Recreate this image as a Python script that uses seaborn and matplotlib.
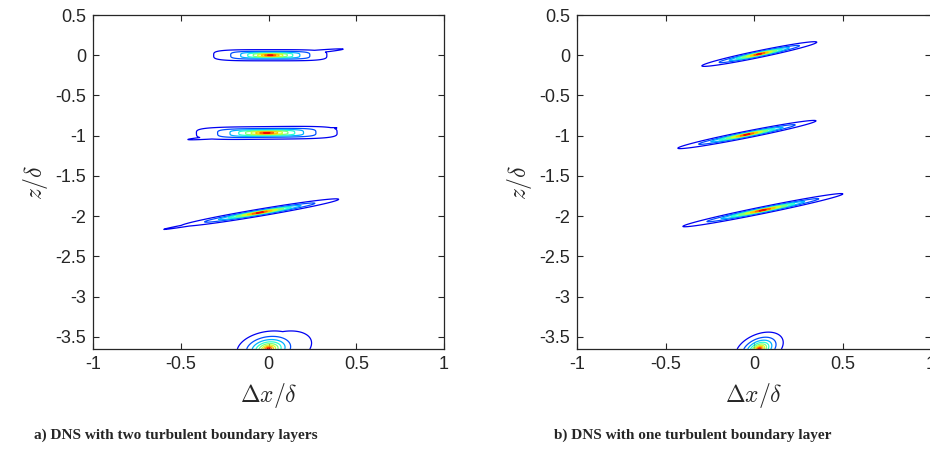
import numpy as np
import matplotlib
matplotlib.use("Agg")
import matplotlib.pyplot as plt
import seaborn as sns

sns.set_style("ticks")
plt.rcParams["font.family"] = ["Liberation Sans", "DejaVu Sans"]
plt.rcParams["mathtext.fontset"] = "cm"

# ---- data: correlation-blob parameters ----
# panel a) two turbulent boundary layers (core ellipse + faint halo)
a_x0 = [0.01, -0.01, -0.05, 0.0]
a_zc = [0.0, -0.965, -1.955, -3.65]
a_slope = [0.0, 0.02, 0.37, 2.75]
a_lx = [0.14, 0.174, 0.208, 0.10]
a_lz = [0.03, 0.034, 0.018, 0.075]
a_p = [4, 4, 2, 2]
a_hx = [0.12, -0.035, -0.10, 0.07]
a_hz = [0.015, -0.975, -1.975, -3.65]
a_hslope = [0.2, 0.17, 0.38, 2.0]
a_hlx = [0.34, 0.47, 0.58, 0.26]
a_hlz = [0.022, 0.025, 0.02, 0.17]
a_hamp = [0.25, 0.25, 0.25, 0.25]

# panel b) one turbulent boundary layer
b_x0 = [0.03, -0.04, 0.05, 0.03]
b_zc = [0.015, -0.985, -1.925, -3.65]
b_slope = [0.46, 0.44, 0.45, 2.75]
b_lx = [0.155, 0.185, 0.215, 0.095]
b_lz = [0.017, 0.017, 0.017, 0.052]
b_p = [2, 2, 2, 2]
b_hx = [0.0, 0.0, 0.0, 0.0]
b_hz = [0.0, -1.0, -2.0, -3.65]
b_hslope = [0.0, 0.0, 0.0, 0.0]
b_hlx = [0.1, 0.1, 0.1, 0.1]
b_hlz = [0.01, 0.01, 0.01, 0.01]
b_hamp = [0.0, 0.0, 0.0, 0.0]

levels = [0.1, 0.2, 0.3, 0.4, 0.5, 0.6, 0.7, 0.8, 0.9]
xticks = [-1, -0.5, 0, 0.5, 1]
xticklabels = ["-1", "-0.5", "0", "0.5", "1"]
yticks = [0.5, 0, -0.5, -1, -1.5, -2, -2.5, -3, -3.5]
yticklabels = ["0.5", "0", "-0.5", "-1", "-1.5", "-2", "-2.5", "-3", "-3.5"]
captions = ["a) DNS with two turbulent boundary layers",
            "b) DNS with one turbulent boundary layer"]

x = np.linspace(-1, 1, 900)
z = np.linspace(-3.65, 0.5, 1800)
X, Z = np.meshgrid(x, z)


def comp(x0, z0, slope, lx, lz, p=2):
    th = np.arctan(slope)
    dx, dz = X - x0, Z - z0
    u = dx * np.cos(th) + dz * np.sin(th)
    v = -dx * np.sin(th) + dz * np.cos(th)
    r = (np.abs(u / lx) ** p + np.abs(v / lz) ** p) ** (1.0 / p)
    return np.exp(-r)


def field(x0, zc, sl, lx, lz, p, hx, hz, hs, hlx, hlz, ha):
    F = np.zeros_like(X)
    for i in range(len(zc)):
        core = comp(x0[i], zc[i], sl[i], lx[i], lz[i], p[i])
        halo = ha[i] * comp(hx[i], hz[i], hs[i], hlx[i], hlz[i])
        F += np.maximum(core, halo)
    return F


fields = [
    field(a_x0, a_zc, a_slope, a_lx, a_lz, a_p, a_hx, a_hz, a_hslope, a_hlx, a_hlz, a_hamp),
    field(b_x0, b_zc, b_slope, b_lx, b_lz, b_p, b_hx, b_hz, b_hslope, b_hlx, b_hlz, b_hamp),
]

colors = [plt.get_cmap("jet")(v) for v in levels]

fig = plt.figure(figsize=(9.3, 4.54), dpi=100)
axes_rects = [[93 / 930, 105 / 454, 351 / 930, 334 / 454],
              [577 / 930, 105 / 454, 354 / 930, 334 / 454]]
cap_x = [176 / 930, 693 / 930]
for k in range(2):
    ax = fig.add_axes(axes_rects[k])
    ax.contour(X, Z, fields[k], levels=levels, colors=colors, linewidths=0.9)
    ax.set_xlim(-1, 1)
    ax.set_ylim(-3.65, 0.5)
    ax.set_xticks(xticks)
    ax.set_xticklabels(xticklabels)
    ax.set_yticks(yticks)
    ax.set_yticklabels(yticklabels)
    ax.tick_params(direction="in", top=True, right=True, length=4, width=0.8,
                   labelsize=13, color="#262626", labelcolor="#262626", pad=5)
    for s in ax.spines.values():
        s.set_visible(True)
        s.set_linewidth(0.9)
        s.set_color("#262626")
    ax.set_xlabel(r"$\Delta x/\delta$", fontsize=17, labelpad=6, color="#262626")
    ax.set_ylabel(r"$z/\delta$", fontsize=17, labelpad=4, color="#262626")
    fig.text(cap_x[k], 1 - 435 / 454, captions[k], ha="center", va="center",
             fontsize=11, fontweight="bold", family=["Liberation Serif"])

fig.savefig("out.png", dpi=100)
